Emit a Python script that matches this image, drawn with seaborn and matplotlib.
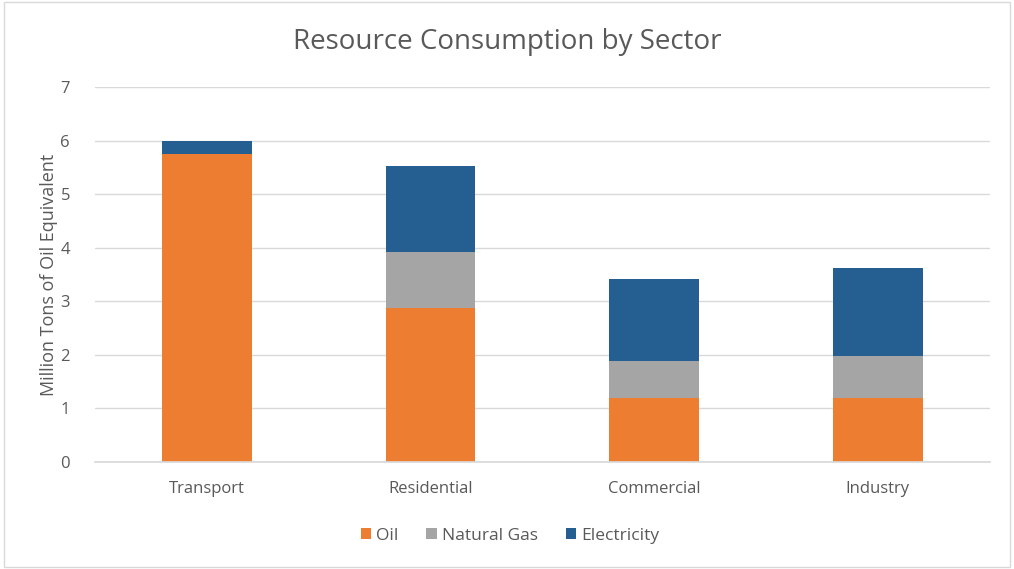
import matplotlib
matplotlib.use("Agg")
import matplotlib.pyplot as plt
import seaborn as sns
import pandas as pd
from matplotlib.patches import Rectangle

sectors = ["Transport", "Residential", "Commercial", "Industry"]
oil = [5.75, 2.88, 1.2, 1.2]
natural_gas = [0.0, 1.04, 0.69, 0.78]
electricity = [0.25, 1.6, 1.53, 1.64]
series_names = ["Oil", "Natural Gas", "Electricity"]
colors = ["#ED7D31", "#A5A5A5", "#255E91"]

sns.set_theme(style="white")
plt.rcParams["font.family"] = ["Open Sans", "DejaVu Sans"]
text_color = "#595959"

df = pd.DataFrame({"Sector": sectors, "Oil": oil, "Natural Gas": natural_gas,
                   "Electricity": electricity})
df["c1"] = df["Oil"]
df["c2"] = df["Oil"] + df["Natural Gas"]
df["c3"] = df["c2"] + df["Electricity"]

fig = plt.figure(figsize=(10.14, 5.69), dpi=100)
ax = fig.add_axes([0.0937, 0.188, 0.8823, 0.659])

for col, name, c in zip(["c3", "c2", "c1"], series_names[::-1], colors[::-1]):
    sns.barplot(data=df, x="Sector", y=col, color=c, width=0.4, ax=ax,
                saturation=1, label=name, linewidth=0)

handles, labels = ax.get_legend_handles_labels()
if ax.get_legend() is not None:
    ax.get_legend().remove()

ax.set_ylim(0, 7)
ax.set_xlim(-0.5, 3.5)
ax.set_yticks(range(0, 8))
ax.grid(axis="y", color="#D9D9D9", linewidth=1)
ax.set_axisbelow(True)
for s in ["top", "right", "left"]:
    ax.spines[s].set_visible(False)
ax.spines["bottom"].set_color("#D9D9D9")
ax.tick_params(axis="both", length=0, colors=text_color, labelsize=12)
ax.tick_params(axis="x", pad=14)
ax.tick_params(axis="y", pad=18)
ax.set_xlabel("")
ax.set_ylabel("Million Tons of Oil Equivalent", color=text_color, fontsize=13, labelpad=2)
fig.text(0.5, 0.927, "Resource Consumption by Sector", color=text_color, fontsize=20,
         ha="center", va="center")

order = [labels.index(n) for n in series_names]
leg = fig.legend([handles[i] for i in order], [labels[i] for i in order],
                 loc="center", bbox_to_anchor=(0.503, 0.058), ncol=3, frameon=False,
                 fontsize=12.5, handlelength=0.6, handleheight=0.6, handletextpad=0.3,
                 columnspacing=1.6, labelcolor=text_color)

fig.patches.append(Rectangle((0.004, 0.004), 0.992, 0.992, transform=fig.transFigure,
                             fill=False, edgecolor="#D9D9D9", linewidth=1))
fig.savefig("out.png", dpi=100)
